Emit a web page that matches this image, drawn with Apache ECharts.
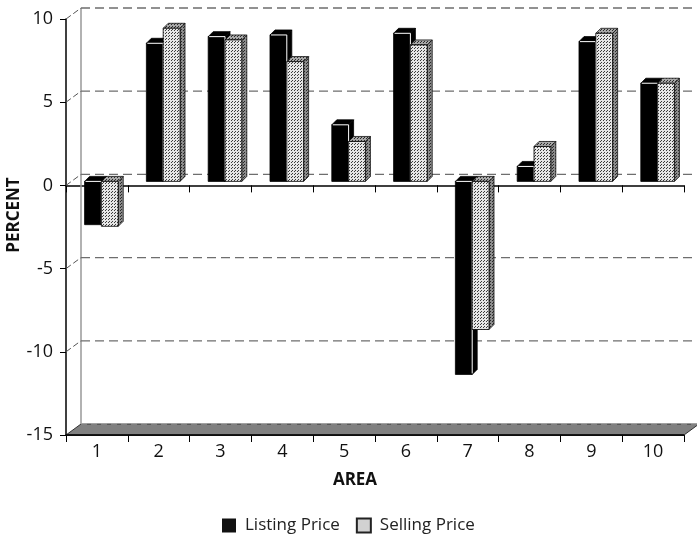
<!DOCTYPE html>
<html>
<head>
<meta charset="utf-8">
<script src="https://cdn.jsdelivr.net/npm/echarts@6/dist/echarts.min.js"></script>
<style>
  html, body { margin: 0; padding: 0; background: #fff; }
  #chart { width: 697px; height: 538px; }
</style>
</head>
<body>
<div id="chart"></div>
<script>
// Percent change in listing and selling prices by area
const categories = ['1', '2', '3', '4', '5', '6', '7', '8', '9', '10'];
const listingPrice = [-2.6, 8.3, 8.7, 8.8, 3.4, 8.9, -11.6, 0.9, 8.4, 5.9];
const sellingPrice = [-2.7, 9.2, 8.5, 7.2, 2.4, 8.2, -8.9, 2.1, 8.9, 5.9];
const yTicks = [10, 5, 0, -5, -10, -15];

const FONT = 'Open Sans';
// oblique projection of the back wall and of the bars
const WALL_DX = 15, WALL_DY = -11;
const FACE_DX = 4.5, FACE_DY = -4;
const BAR_DX = 5, BAR_DY = -5;
const BAR_FRAC = 0.272;

function dotPattern(bg, dot) {
  const c = document.createElement('canvas');
  c.width = 3; c.height = 3;
  const g = c.getContext('2d');
  g.fillStyle = bg; g.fillRect(0, 0, 3, 3);
  g.fillStyle = dot;
  g.fillRect(0, 0, 1, 1);
  g.fillRect(1, 2, 1, 1);
  return { image: c, repeat: 'repeat' };
}

const sellFront = dotPattern('#e6e6e6', '#3a3a3a');
const sellTop = dotPattern('#a8a8a8', '#2a2a2a');
const sellSide = dotPattern('#8c8c8c', '#2a2a2a');

function wallRender(params, api) {
  const cs = params.coordSys;
  const x0 = cs.x, x1 = cs.x + cs.width;
  const children = [];
  const yMin = yTicks[yTicks.length - 1];
  const yFloor = api.coord([0, yMin])[1];
  const yTopWall = api.coord([0, yTicks[0]])[1] + WALL_DY;
  // floor
  children.push({
    type: 'polygon',
    shape: { points: [[x0, yFloor], [x1, yFloor], [x1 + WALL_DX, yFloor + WALL_DY], [x0 + WALL_DX, yFloor + WALL_DY]] },
    style: { fill: '#808080', stroke: '#333', lineWidth: 1 }
  });
  children.push({
    type: 'line',
    shape: { x1: x0, y1: yFloor, x2: x1, y2: yFloor },
    style: { stroke: '#000', lineWidth: 1.5 }
  });
  // back wall left edge
  children.push({
    type: 'line',
    shape: { x1: x0 + WALL_DX, y1: yTopWall, x2: x0 + WALL_DX, y2: yFloor + WALL_DY },
    style: { stroke: '#999', lineWidth: 1.5 }
  });
  yTicks.forEach(function (t) {
    const y = api.coord([0, t])[1];
    if (t !== yMin) {
      children.push({
        type: 'line',
        shape: { x1: x0 + WALL_DX, y1: y + WALL_DY, x2: x1 + WALL_DX + 10, y2: y + WALL_DY },
        style: { stroke: '#6e6e6e', lineWidth: 1.3, lineDash: [9, 5] }
      });
      children.push({
        type: 'line',
        shape: { x1: x0, y1: y, x2: x0 + WALL_DX, y2: y + WALL_DY },
        style: { stroke: '#555', lineWidth: 1, lineDash: [6, 3] }
      });
    } else {
      children.push({
        type: 'line',
        shape: { x1: x0 + WALL_DX, y1: y + WALL_DY, x2: x1 + WALL_DX, y2: y + WALL_DY },
        style: { stroke: '#aaa', lineWidth: 1, lineDash: [6, 4] }
      });
    }
  });
  return { type: 'group', children: children };
}

function barRender(slot, look) {
  return function (params, api) {
    const idx = api.value(0), v = api.value(1);
    const base = api.coord([idx, 0]);
    const tip = api.coord([idx, v]);
    const w = api.size([1, 0])[0] * BAR_FRAC;
    const left = base[0] + FACE_DX - w + slot * w;
    const yTop = Math.min(base[1], tip[1]) + FACE_DY;
    const yBot = Math.max(base[1], tip[1]) + FACE_DY;
    const r = left + w;
    const children = [
      {
        type: 'polygon',
        shape: { points: [[r, yTop], [r + BAR_DX, yTop + BAR_DY], [r + BAR_DX, yBot + BAR_DY], [r, yBot]] },
        style: { fill: look.side, stroke: look.edge, lineWidth: 0.8 }
      },
      {
        type: 'polygon',
        shape: { points: [[left, yTop], [r, yTop], [r + BAR_DX, yTop + BAR_DY], [left + BAR_DX, yTop + BAR_DY]] },
        style: { fill: look.top, stroke: look.edge, lineWidth: 0.8 }
      },
      {
        type: 'rect',
        shape: { x: left, y: yTop, width: w, height: yBot - yTop },
        style: { fill: look.front, stroke: '#000', lineWidth: 0.8 }
      }
    ];
    if (look.highlight) {
      children.push({
        type: 'polyline',
        shape: { points: [[left + 1, yTop], [r, yTop], [r, yBot - 1]] },
        style: { stroke: look.highlight, lineWidth: 1, fill: null }
      });
    }
    return { type: 'group', children: children };
  };
}

const chart = echarts.init(document.getElementById('chart'), null, { renderer: 'canvas' });

chart.setOption({
  animation: false,
  backgroundColor: '#fff',
  textStyle: { fontFamily: FONT },
  grid: { left: 66, right: 13, top: 19, bottom: 103, containLabel: false, outerBoundsMode: 'none' },
  legend: {
    data: ['Listing Price', 'Selling Price'],
    left: 217,
    top: 512,
    icon: 'rect',
    itemWidth: 14,
    itemHeight: 14,
    itemGap: 16,
    textStyle: { fontFamily: FONT, fontSize: 17, color: '#222', padding: [0, 0, 0, 4] }
  },
  xAxis: [
    {
      type: 'category',
      data: categories,
      axisLine: { onZero: true, lineStyle: { color: '#000', width: 1.5 } },
      axisTick: { show: true, length: 7, lineStyle: { color: '#000' } },
      axisLabel: { show: false },
      splitLine: { show: false }
    },
    {
      type: 'category',
      data: categories,
      position: 'bottom',
      axisLine: { onZero: false, lineStyle: { color: '#000', width: 1.5 } },
      axisTick: { show: true, length: 7, lineStyle: { color: '#000' } },
      axisLabel: { fontFamily: FONT, fontSize: 18, color: '#111', margin: 8 },
      name: 'AREA',
      nameLocation: 'middle',
      nameGap: 37,
      nameMoveOverlap: false,
      nameTextStyle: { fontFamily: FONT, fontSize: 17, fontWeight: 'bold', color: '#111', padding: [0, 40, 0, 0] }
    }
  ],
  yAxis: {
    type: 'value',
    min: -15,
    max: 10,
    interval: 5,
    axisLine: { show: true, lineStyle: { color: '#000', width: 1.5 } },
    axisTick: { show: true, length: 6, lineStyle: { color: '#000' } },
    axisLabel: { fontFamily: FONT, fontSize: 18, color: '#111', margin: 13 },
    splitLine: { show: false },
    name: 'PERCENT',
    nameLocation: 'middle',
    nameRotate: 90,
    nameGap: 43,
    nameMoveOverlap: false,
    nameTextStyle: { fontFamily: FONT, fontSize: 17, fontWeight: 'bold', color: '#111', padding: [0, 0, 0, 24] }
  },
  series: [
    {
      name: 'wall',
      type: 'custom',
      silent: true,
      clip: false,
      z: 1,
      renderItem: wallRender,
      data: [[0, 0]]
    },
    {
      name: 'Listing Price',
      type: 'custom',
      clip: false,
      z: 3,
      itemStyle: { color: '#111' },
      renderItem: barRender(0, { front: '#000', top: '#000', side: '#000', edge: '#000', highlight: '#fff' }),
      data: listingPrice.map(function (v, i) { return [i, v]; })
    },
    {
      name: 'Selling Price',
      type: 'custom',
      clip: false,
      z: 4,
      itemStyle: { color: '#d2d2d2', borderColor: '#222', borderWidth: 1 },
      renderItem: barRender(1, { front: sellFront, top: sellTop, side: sellSide, edge: '#111' }),
      data: sellingPrice.map(function (v, i) { return [i, v]; })
    }
  ]
});
</script>
</body>
</html>
